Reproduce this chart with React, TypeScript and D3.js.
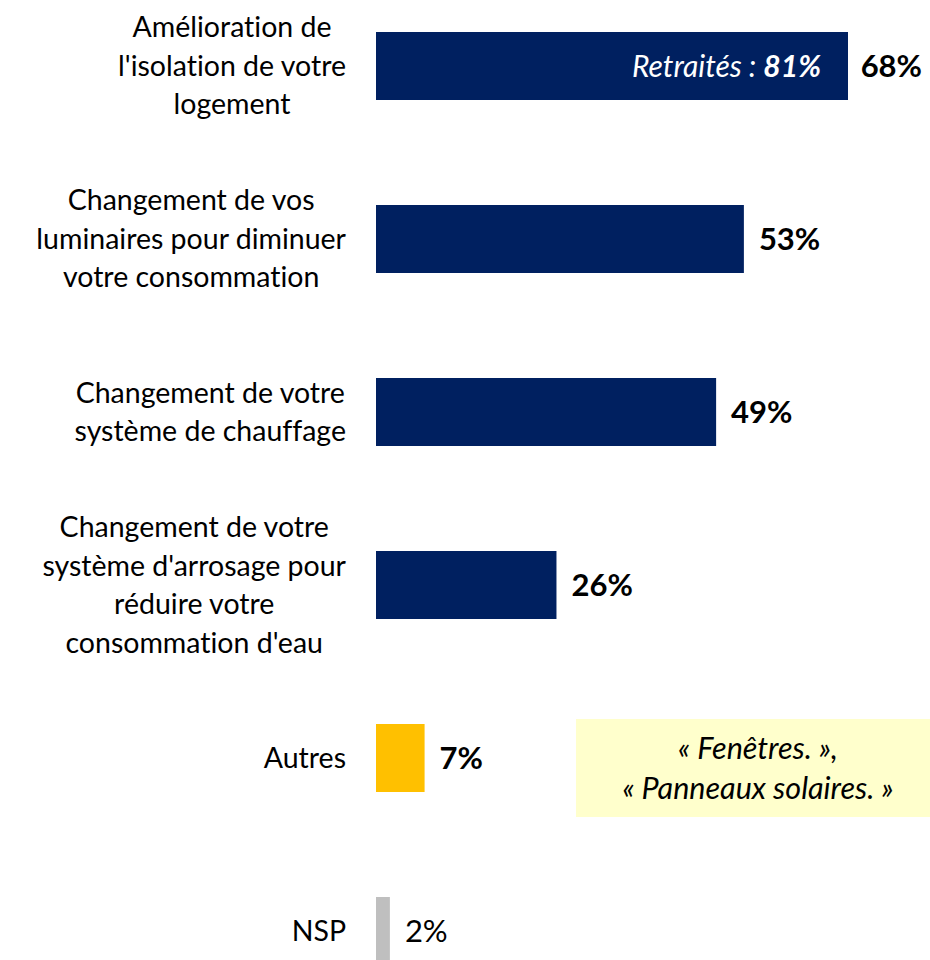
import React, { useEffect, useRef } from "react";
import * as d3 from "d3";

const categories: string[][] = [
  ["Amélioration de", "l'isolation de votre", "logement"],
  ["Changement de vos", "luminaires pour diminuer", "votre consommation"],
  ["Changement de votre", "système de chauffage"],
  ["Changement de votre", "système d'arrosage pour", "réduire votre", "consommation d'eau"],
  ["Autres"],
  ["NSP"],
];
const values: number[] = [68, 53, 49, 26, 7, 2];
const barColors: string[] = ["#002060", "#002060", "#002060", "#002060", "#FFC000", "#BFBFBF"];
const boldValue: boolean[] = [true, true, true, true, true, false];
const insideNote = { prefix: "Retraités : ", value: "81%" };
const calloutLines: string[] = ["« Fenêtres. »,", "« Panneaux solaires. »"];

const FONT = "Lato, 'Open Sans', sans-serif";

export default function App() {
  const ref = useRef<SVGSVGElement>(null);
  useEffect(() => {
    const svg = d3.select(ref.current);
    svg.selectAll("*").remove();
    const x0 = 376;
    const x = d3.scaleLinear().domain([0, 68]).range([x0, 848]);
    const keys = categories.map((_, i) => String(i));
    const y = d3.scalePoint<string>().domain(keys).range([66, 931]);
    const barH = 68;
    const lineH = 38.5;
    const labelRight = 346;

    const g = svg.append("g").style("font-variant-ligatures", "none");
    categories.forEach((lines, i) => {
      const cy = y(String(i))!;
      g.append("rect")
        .attr("x", x(0))
        .attr("y", cy - barH / 2)
        .attr("width", x(values[i]) - x(0))
        .attr("height", barH)
        .attr("fill", barColors[i]);
      const t = g.append("text")
        .attr("font-family", FONT)
        .attr("font-size", 28.5)
        .attr("fill", "#000");
      const n = lines.length;
      const tspans = lines.map((l, j) =>
        t.append("tspan")
          .attr("y", cy + (j - (n - 1) / 2) * lineH)
          .attr("dy", "0.35em")
          .text(l)
      );
      let maxW = 0;
      tspans.forEach((ts) => {
        const w = (ts.node() as SVGTSpanElement).getComputedTextLength();
        if (w > maxW) maxW = w;
      });
      const cx = labelRight - maxW / 2;
      tspans.forEach((ts) => ts.attr("x", cx).attr("text-anchor", "middle"));
      const vt = g.append("text")
        .attr("y", cy)
        .attr("dy", "0.35em")
        .attr("font-family", FONT)
        .attr("font-size", 31)
        .attr("font-weight", boldValue[i] ? 700 : 400)
        .attr("fill", "#000")
        .text(values[i] + "%");
      const vw = (vt.node() as SVGTextElement).getComputedTextLength();
      vt.attr("x", Math.min(x(values[i]) + 15, 922 - vw));
    });

    const cy0 = y("0")!;
    const note = g.append("text")
      .attr("x", x(values[0]) - 27)
      .attr("y", cy0)
      .attr("dy", "0.35em")
      .attr("text-anchor", "end")
      .attr("font-family", FONT)
      .attr("font-size", 30)
      .attr("font-style", "italic")
      .attr("fill", "#fff");
    note.append("tspan").text(insideNote.prefix);
    note.append("tspan").attr("font-weight", 700).text(insideNote.value);

    const cy4 = y("4")!;
    const boxX = 576, boxW = 354, boxTop = cy4 - 39, boxH = 98;
    g.append("rect")
      .attr("x", boxX).attr("y", boxTop).attr("width", boxW).attr("height", boxH)
      .attr("fill", "#FFFFCC");
    const ct = g.append("text")
      .attr("font-family", FONT)
      .attr("font-size", 30.5)
      .attr("font-style", "italic")
      .attr("text-anchor", "middle")
      .attr("fill", "#000");
    calloutLines.forEach((l, j) => {
      ct.append("tspan")
        .attr("x", boxX + boxW / 2 + 5)
        .attr("y", boxTop + boxH / 2 + (j - 0.5) * 40)
        .attr("dy", "0.35em")
        .text(l);
    });
  }, []);
  return (
    <svg
      ref={ref}
      width={930}
      height={960}
      style={{ position: "absolute", left: 0, top: 0, background: "#fff" }}
    />
  );
}
